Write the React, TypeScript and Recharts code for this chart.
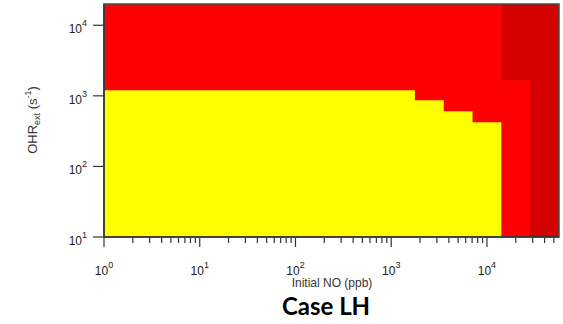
import React from 'react';
import { ComposedChart, XAxis, YAxis, ReferenceArea } from 'recharts';

// Initial NO bin edges (ppb), factor-of-2 spacing above ~1.8 ppm
const noEdges = [1, 1768, 3536, 7071, 14142, 28284, 56569];
// Top of the low-OHR (yellow) regime in each of the first four bins (s^-1)
const yellowTops = [1200, 866, 605, 423];
// Dark red regime: upper block in the 5th bin starts here, 6th bin is fully dark
const darkRedFloor = 1663;

const ohrMin = 10;
const ohrMax = 20000;

const xMajorTicks = [1, 10, 100, 1000, 10000];
const yMajorTicks = [10, 100, 1000, 10000];
const minorSteps = [2, 3, 4, 5, 6, 7, 8, 9];

const xTicks: number[] = [];
xMajorTicks.forEach((d) => {
  xTicks.push(d);
  minorSteps.forEach((m) => {
    if (d * m <= noEdges[noEdges.length - 1]) xTicks.push(d * m);
  });
});

const YELLOW = '#ffff00';
const RED = '#ff0000';
const DARK_RED = '#d40000';
const AXIS = '#333';
const FONT = '"Liberation Sans", Arial, sans-serif';

const isPow10 = (v: number) => Math.abs(Math.log10(v) - Math.round(Math.log10(v))) < 1e-9;

const XTick = (props: any) => {
  const { x, y, payload } = props;
  const v = payload.value as number;
  const major = isPow10(v);
  return (
    <g>
      <line x1={x} x2={x} y1={y + 1} y2={y + (major ? 10 : 6)} stroke={AXIS} strokeWidth={1.2} />
      {major && (
        <text x={x} y={y + 38} textAnchor="middle" fontFamily={FONT} fontSize={12} fill="#222">
          10
          <tspan dy={-7} fontSize={9}>
            {Math.round(Math.log10(v))}
          </tspan>
        </text>
      )}
    </g>
  );
};

const YTick = (props: any) => {
  const { x, y, payload } = props;
  const v = payload.value as number;
  return (
    <g>
      <line x1={x - 11} x2={x} y1={y} y2={y} stroke={AXIS} strokeWidth={1.2} />
      <text x={x - 17} y={y + 8} textAnchor="end" fontFamily={FONT} fontSize={12} fill="#222">
        10
        <tspan dy={-7} fontSize={9}>
          {Math.round(Math.log10(v))}
        </tspan>
      </text>
    </g>
  );
};

const YLabel = () => (
  <text
    transform="rotate(-90, 37, 120)"
    x={37}
    y={120}
    textAnchor="middle"
    fontFamily={FONT}
    fontSize={13}
    fill="#333"
  >
    OHR
    <tspan dy={3} fontSize={9}>ext</tspan>
    <tspan dy={-3}> (s</tspan>
    <tspan dy={-6} fontSize={9}>-1</tspan>
    <tspan dy={6}>)</tspan>
  </text>
);

const XLabel = () => (
  <g>
    <text x={332} y={287} textAnchor="middle" fontFamily={FONT} fontSize={12} fill="#333">
      Initial NO (ppb)
    </text>
    <text x={326} y={315} textAnchor="middle" fontFamily="Lato, 'Open Sans', sans-serif" fontWeight={700} fontSize={24} fill="#000">
      Case LH
    </text>
  </g>
);

export default function App() {
  const xMax = noEdges[noEdges.length - 1];
  return (
    <div style={{ position: 'absolute', left: 0, top: 0, width: 563, height: 324, background: '#fff' }}>
      <ComposedChart width={563} height={324} data={[]} margin={{ top: 4, right: 4, bottom: 0, left: 0 }}>
        <XAxis
          dataKey="x"
          type="number"
          scale="log"
          domain={[1, xMax]}
          allowDataOverflow
          ticks={xTicks}
          interval={0}
          tickSize={0}
          tickMargin={0}
          tick={<XTick />}
          height={87}
          axisLine={{ stroke: AXIS, strokeWidth: 1.5 }}
          label={<XLabel />}
        />
        <YAxis
          type="number"
          scale="log"
          domain={[ohrMin, ohrMax]}
          allowDataOverflow
          ticks={yMajorTicks}
          interval={0}
          tickSize={0}
          tickMargin={0}
          tick={<YTick />}
          width={104}
          axisLine={{ stroke: AXIS, strokeWidth: 1.5 }}
          label={<YLabel />}
        />
        {/* high-OHR background */}
        <ReferenceArea x1={1} x2={xMax} y1={ohrMin} y2={ohrMax} fill={RED} fillOpacity={1} stroke="none" />
        {/* low-OHR staircase: each block spans from the left edge so the steps join without seams */}
        {yellowTops.map((top, i) => (
          <ReferenceArea
            key={i}
            x1={noEdges[0]}
            x2={noEdges[i + 1]}
            y1={ohrMin}
            y2={top}
            fill={YELLOW}
            fillOpacity={1}
            stroke="none"
          />
        ))}
        <ReferenceArea x1={noEdges[4]} x2={noEdges[5]} y1={darkRedFloor} y2={ohrMax} fill={DARK_RED} fillOpacity={1} stroke="none" />
        <ReferenceArea x1={noEdges[5]} x2={noEdges[6]} y1={ohrMin} y2={ohrMax} fill={DARK_RED} fillOpacity={1} stroke="none" />
        {/* plot frame */}
        <ReferenceArea x1={1} x2={xMax} y1={ohrMin} y2={ohrMax} fill="none" stroke="#4a4a4a" strokeWidth={1.5} />
      </ComposedChart>
    </div>
  );
}
